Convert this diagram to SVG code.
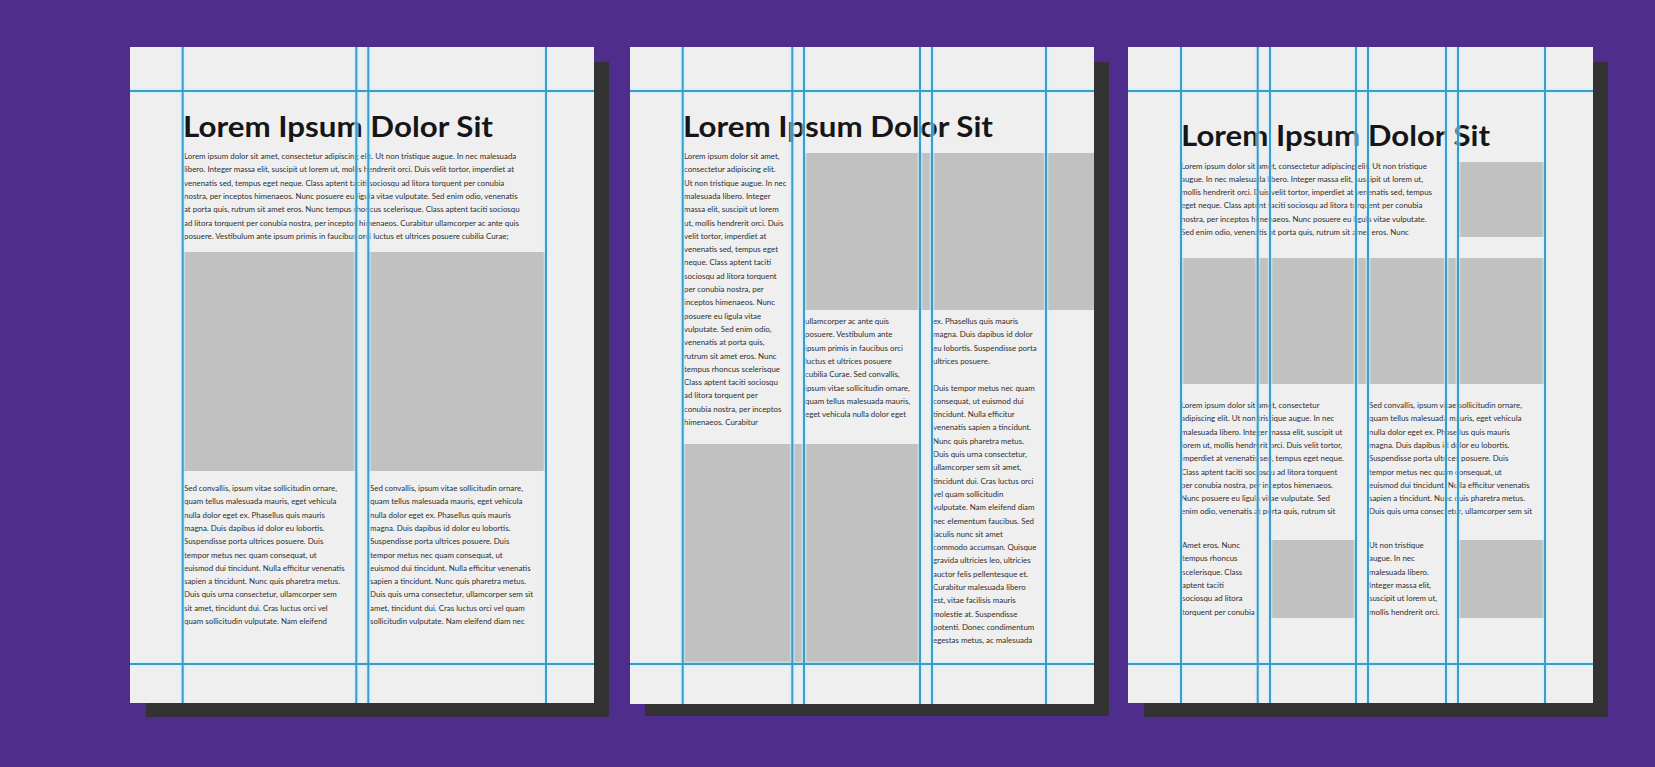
<svg xmlns="http://www.w3.org/2000/svg" width="1655" height="767" viewBox="0 0 1655 767">
<style>
.bg{fill:#4f2d8c}
.shadow{fill:#333333}
.page{fill:#efeff0}
.box{fill:#c1c1c1}
.title{font-family:Lato,"Liberation Sans",sans-serif;font-weight:700;font-size:28px;fill:#161616}
.body{font-family:Lato,"Liberation Sans",sans-serif;font-size:7.9px;fill:#2e2e2e}
.halo{stroke:#bff3ff;stroke-width:5;fill:none;opacity:0.55}
.core{stroke:#3f9acb;stroke-width:2;fill:none}
</style>
<rect class="bg" x="0" y="0" width="1655" height="767"/>

<g id="page1">
<rect class="shadow" x="146" y="62" width="463" height="655"/>
<rect class="page" x="130" y="47" width="464" height="656"/>
<rect class="box" x="183" y="252" width="173" height="219"/>
<rect class="box" x="368" y="252" width="178" height="219"/>
<text class="title" x="183" y="137" textLength="310" lengthAdjust="spacingAndGlyphs">Lorem Ipsum Dolor Sit</text>
<text class="body" x="184" y="159">
<tspan x="184" dy="0">Lorem ipsum dolor sit amet, consectetur adipiscing elit. Ut non tristique augue. In nec malesuada</tspan>
<tspan x="184" dy="13.3">libero. Integer massa elit, suscipit ut lorem ut, mollis hendrerit orci. Duis velit tortor, imperdiet at</tspan>
<tspan x="184" dy="13.3">venenatis sed, tempus eget neque. Class aptent taciti sociosqu ad litora torquent per conubia</tspan>
<tspan x="184" dy="13.3">nostra, per inceptos himenaeos. Nunc posuere eu ligula vitae vulputate. Sed enim odio, venenatis</tspan>
<tspan x="184" dy="13.3">at porta quis, rutrum sit amet eros. Nunc tempus rhoncus scelerisque. Class aptent taciti sociosqu</tspan>
<tspan x="184" dy="13.3">ad litora torquent per conubia nostra, per inceptos himenaeos. Curabitur ullamcorper ac ante quis</tspan>
<tspan x="184" dy="13.3">posuere. Vestibulum ante ipsum primis in faucibus orci luctus et ultrices posuere cubilia Curae;</tspan>
</text>
<text class="body" x="184" y="491">
<tspan x="184" dy="0">Sed convallis, ipsum vitae sollicitudin ornare,</tspan>
<tspan x="184" dy="13.3">quam tellus malesuada mauris, eget vehicula</tspan>
<tspan x="184" dy="13.3">nulla dolor eget ex. Phasellus quis mauris</tspan>
<tspan x="184" dy="13.3">magna. Duis dapibus id dolor eu lobortis.</tspan>
<tspan x="184" dy="13.3">Suspendisse porta ultrices posuere. Duis</tspan>
<tspan x="184" dy="13.3">tempor metus nec quam consequat, ut</tspan>
<tspan x="184" dy="13.3">euismod dui tincidunt. Nulla efficitur venenatis</tspan>
<tspan x="184" dy="13.3">sapien a tincidunt. Nunc quis pharetra metus.</tspan>
<tspan x="184" dy="13.3">Duis quis urna consectetur, ullamcorper sem</tspan>
<tspan x="184" dy="13.3">sit amet, tincidunt dui. Cras luctus orci vel</tspan>
<tspan x="184" dy="13.3">quam sollicitudin vulputate. Nam eleifend</tspan>
</text>
<text class="body" x="370" y="491">
<tspan x="370" dy="0">Sed convallis, ipsum vitae sollicitudin ornare,</tspan>
<tspan x="370" dy="13.3">quam tellus malesuada mauris, eget vehicula</tspan>
<tspan x="370" dy="13.3">nulla dolor eget ex. Phasellus quis mauris</tspan>
<tspan x="370" dy="13.3">magna. Duis dapibus id dolor eu lobortis.</tspan>
<tspan x="370" dy="13.3">Suspendisse porta ultrices posuere. Duis</tspan>
<tspan x="370" dy="13.3">tempor metus nec quam consequat, ut</tspan>
<tspan x="370" dy="13.3">euismod dui tincidunt. Nulla efficitur venenatis</tspan>
<tspan x="370" dy="13.3">sapien a tincidunt. Nunc quis pharetra metus.</tspan>
<tspan x="370" dy="13.3">Duis quis urna consectetur, ullamcorper sem sit</tspan>
<tspan x="370" dy="13.3">amet, tincidunt dui. Cras luctus orci vel quam</tspan>
<tspan x="370" dy="13.3">sollicitudin vulputate. Nam eleifend diam nec</tspan>
</text>
<g id="grid1">
<path class="halo" d="M182.7 47V703M356.3 47V703M368.3 47V703M546 47V703M130 91H594M130 664H594"/>
<path class="core" d="M182.7 47V703M356.3 47V703M368.3 47V703M546 47V703M130 91H594M130 664H594"/>
</g>
</g>

<g id="page2">
<rect class="shadow" x="645" y="62" width="464" height="654"/>
<rect class="page" x="630" y="47" width="464" height="657"/>
<rect class="box" x="805" y="153" width="289" height="157"/>
<rect class="box" x="683" y="444" width="236" height="220"/>
<text class="title" x="683" y="137" textLength="310" lengthAdjust="spacingAndGlyphs">Lorem Ipsum Dolor Sit</text>
<text class="body" x="684" y="159">
<tspan x="684" dy="0">Lorem ipsum dolor sit amet,</tspan>
<tspan x="684" dy="13.3">consectetur adipiscing elit.</tspan>
<tspan x="684" dy="13.3">Ut non tristique augue. In nec</tspan>
<tspan x="684" dy="13.3">malesuada libero. Integer</tspan>
<tspan x="684" dy="13.3">massa elit, suscipit ut lorem</tspan>
<tspan x="684" dy="13.3">ut, mollis hendrerit orci. Duis</tspan>
<tspan x="684" dy="13.3">velit tortor, imperdiet at</tspan>
<tspan x="684" dy="13.3">venenatis sed, tempus eget</tspan>
<tspan x="684" dy="13.3">neque. Class aptent taciti</tspan>
<tspan x="684" dy="13.3">sociosqu ad litora torquent</tspan>
<tspan x="684" dy="13.3">per conubia nostra, per</tspan>
<tspan x="684" dy="13.3">inceptos himenaeos. Nunc</tspan>
<tspan x="684" dy="13.3">posuere eu ligula vitae</tspan>
<tspan x="684" dy="13.3">vulputate. Sed enim odio,</tspan>
<tspan x="684" dy="13.3">venenatis at porta quis,</tspan>
<tspan x="684" dy="13.3">rutrum sit amet eros. Nunc</tspan>
<tspan x="684" dy="13.3">tempus rhoncus scelerisque</tspan>
<tspan x="684" dy="13.3">Class aptent taciti sociosqu</tspan>
<tspan x="684" dy="13.3">ad litora torquent per</tspan>
<tspan x="684" dy="13.3">conubia nostra, per inceptos</tspan>
<tspan x="684" dy="13.3">himenaeos. Curabitur</tspan>
</text>
<text class="body" x="805" y="324">
<tspan x="805" dy="0">ullamcorper ac ante quis</tspan>
<tspan x="805" dy="13.3">posuere. Vestibulum ante</tspan>
<tspan x="805" dy="13.3">ipsum primis in faucibus orci</tspan>
<tspan x="805" dy="13.3">luctus et ultrices posuere</tspan>
<tspan x="805" dy="13.3">cubilia Curae. Sed convallis,</tspan>
<tspan x="805" dy="13.3">ipsum vitae sollicitudin ornare,</tspan>
<tspan x="805" dy="13.3">quam tellus malesuada mauris,</tspan>
<tspan x="805" dy="13.3">eget vehicula nulla dolor eget</tspan>
</text>
<text class="body" x="933" y="324">
<tspan x="933" dy="0">ex. Phasellus quis mauris</tspan>
<tspan x="933" dy="13.3">magna. Duis dapibus id dolor</tspan>
<tspan x="933" dy="13.3">eu lobortis. Suspendisse porta</tspan>
<tspan x="933" dy="13.3">ultrices posuere.</tspan>
<tspan x="933" dy="26.6">Duis tempor metus nec quam</tspan>
<tspan x="933" dy="13.3">consequat, ut euismod dui</tspan>
<tspan x="933" dy="13.3">tincidunt. Nulla efficitur</tspan>
<tspan x="933" dy="13.3">venenatis sapien a tincidunt.</tspan>
<tspan x="933" dy="13.3">Nunc quis pharetra metus.</tspan>
<tspan x="933" dy="13.3">Duis quis urna consectetur,</tspan>
<tspan x="933" dy="13.3">ullamcorper sem sit amet,</tspan>
<tspan x="933" dy="13.3">tincidunt dui. Cras luctus orci</tspan>
<tspan x="933" dy="13.3">vel quam sollicitudin</tspan>
<tspan x="933" dy="13.3">vulputate. Nam eleifend diam</tspan>
<tspan x="933" dy="13.3">nec elementum faucibus. Sed</tspan>
<tspan x="933" dy="13.3">iaculis nunc sit amet</tspan>
<tspan x="933" dy="13.3">commodo accumsan. Quisque</tspan>
<tspan x="933" dy="13.3">gravida ultricies leo, ultricies</tspan>
<tspan x="933" dy="13.3">auctor felis pellentesque et.</tspan>
<tspan x="933" dy="13.3">Curabitur malesuada libero</tspan>
<tspan x="933" dy="13.3">est, vitae facilisis mauris</tspan>
<tspan x="933" dy="13.3">molestie at. Suspendisse</tspan>
<tspan x="933" dy="13.3">potenti. Donec condimentum</tspan>
<tspan x="933" dy="13.3">egestas metus, ac malesuada</tspan>
</text>
<g id="grid2">
<path class="halo" d="M682.7 47V704M792.3 47V704M804 47V704M920 47V704M932 47V704M1046 47V704M630 91H1094M630 664H1094"/>
<path class="core" d="M682.7 47V704M792.3 47V704M804 47V704M920 47V704M932 47V704M1046 47V704M630 91H1094M630 664H1094"/>
</g>
</g>

<g id="page3">
<rect class="shadow" x="1144" y="62" width="464" height="655"/>
<rect class="page" x="1128" y="47" width="465" height="656"/>
<rect class="box" x="1459" y="162" width="85" height="75"/>
<rect class="box" x="1181" y="258" width="364" height="126"/>
<rect class="box" x="1271" y="540" width="85" height="78"/>
<rect class="box" x="1459" y="540" width="85" height="78"/>
<text class="title" x="1181" y="146" textLength="309" lengthAdjust="spacingAndGlyphs">Lorem Ipsum Dolor Sit</text>
<text class="body" x="1181" y="168.5">
<tspan x="1181" dy="0">Lorem ipsum dolor sit amet, consectetur adipiscing elit. Ut non tristique</tspan>
<tspan x="1181" dy="13.3">augue. In nec malesuada libero. Integer massa elit, suscipit ut lorem ut,</tspan>
<tspan x="1181" dy="13.3">mollis hendrerit orci. Duis velit tortor, imperdiet at venenatis sed, tempus</tspan>
<tspan x="1181" dy="13.3">eget neque. Class aptent taciti sociosqu ad litora torquent per conubia</tspan>
<tspan x="1181" dy="13.3">nostra, per inceptos himenaeos. Nunc posuere eu ligula vitae vulputate.</tspan>
<tspan x="1181" dy="13.3">Sed enim odio, venenatis at porta quis, rutrum sit amet eros. Nunc</tspan>
</text>
<text class="body" x="1181" y="408">
<tspan x="1181" dy="0">Lorem ipsum dolor sit amet, consectetur</tspan>
<tspan x="1181" dy="13.3">adipiscing elit. Ut non tristique augue. In nec</tspan>
<tspan x="1181" dy="13.3">malesuada libero. Integer massa elit, suscipit ut</tspan>
<tspan x="1181" dy="13.3">lorem ut, mollis hendrerit orci. Duis velit tortor,</tspan>
<tspan x="1181" dy="13.3">imperdiet at venenatis sed, tempus eget neque.</tspan>
<tspan x="1181" dy="13.3">Class aptent taciti sociosqu ad litora torquent</tspan>
<tspan x="1181" dy="13.3">per conubia nostra, per inceptos himenaeos.</tspan>
<tspan x="1181" dy="13.3">Nunc posuere eu ligula vitae vulputate. Sed</tspan>
<tspan x="1181" dy="13.3">enim odio, venenatis at porta quis, rutrum sit</tspan>
</text>
<text class="body" x="1369" y="408">
<tspan x="1369" dy="0">Sed convallis, ipsum vitae sollicitudin ornare,</tspan>
<tspan x="1369" dy="13.3">quam tellus malesuada mauris, eget vehicula</tspan>
<tspan x="1369" dy="13.3">nulla dolor eget ex. Phasellus quis mauris</tspan>
<tspan x="1369" dy="13.3">magna. Duis dapibus id dolor eu lobortis.</tspan>
<tspan x="1369" dy="13.3">Suspendisse porta ultrices posuere. Duis</tspan>
<tspan x="1369" dy="13.3">tempor metus nec quam consequat, ut</tspan>
<tspan x="1369" dy="13.3">euismod dui tincidunt. Nulla efficitur venenatis</tspan>
<tspan x="1369" dy="13.3">sapien a tincidunt. Nunc quis pharetra metus.</tspan>
<tspan x="1369" dy="13.3">Duis quis urna consectetur, ullamcorper sem sit</tspan>
</text>
<text class="body" x="1182" y="548">
<tspan x="1182" dy="0">Amet eros. Nunc</tspan>
<tspan x="1182" dy="13.3">tempus rhoncus</tspan>
<tspan x="1182" dy="13.3">scelerisque. Class</tspan>
<tspan x="1182" dy="13.3">aptent taciti</tspan>
<tspan x="1182" dy="13.3">sociosqu ad litora</tspan>
<tspan x="1182" dy="13.3">torquent per conubia</tspan>
</text>
<text class="body" x="1369" y="548">
<tspan x="1369" dy="0">Ut non tristique</tspan>
<tspan x="1369" dy="13.3">augue. In nec</tspan>
<tspan x="1369" dy="13.3">malesuada libero.</tspan>
<tspan x="1369" dy="13.3">Integer massa elit,</tspan>
<tspan x="1369" dy="13.3">suscipit ut lorem ut,</tspan>
<tspan x="1369" dy="13.3">mollis hendrerit orci.</tspan>
</text>
<g id="grid3">
<path class="halo" d="M1181 47V703M1257.7 47V703M1270 47V703M1356 47V703M1368 47V703M1446 47V703M1458 47V703M1545 47V703M1128 91H1593M1128 664H1593"/>
<path class="core" d="M1181 47V703M1257.7 47V703M1270 47V703M1356 47V703M1368 47V703M1446 47V703M1458 47V703M1545 47V703M1128 91H1593M1128 664H1593"/>
</g>
</g>
</svg>
